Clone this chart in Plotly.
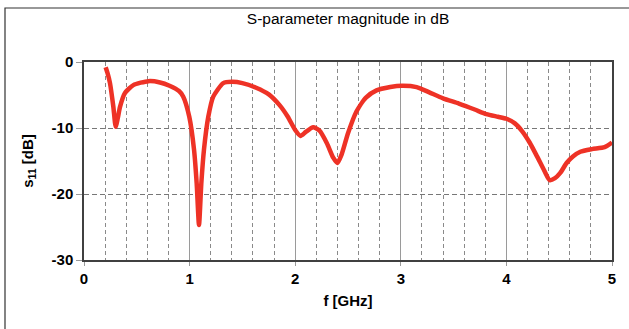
import plotly.graph_objects as go

freq_ghz = [0.205, 0.225, 0.246, 0.278, 0.30, 0.32, 0.341, 0.388, 0.467, 0.61, 0.72, 0.81,
            0.90, 0.94, 0.997, 1.042, 1.067, 1.089, 1.111, 1.136, 1.177, 1.224, 1.319, 1.40,
            1.50, 1.63, 1.75,
            1.85, 1.93, 2.00, 2.05, 2.10, 2.17, 2.23, 2.30, 2.36, 2.40, 2.44, 2.50, 2.58,
            2.67, 2.77, 2.90, 3.01, 3.15, 3.27, 3.40, 3.55, 3.70, 3.81, 3.92, 4.00, 4.08,
            4.15, 4.22, 4.29, 4.36, 4.41, 4.46, 4.51, 4.57, 4.63, 4.70, 4.81, 4.93, 5.0]
s11_db = [-0.8, -1.8, -3.2, -6.8, -9.8, -8.5, -6.8, -4.7, -3.5, -2.9, -3.1, -3.6,
          -4.4, -5.25, -8.3, -13.3, -18.4, -24.7, -18.4, -13.3, -8.3, -5.25, -3.2, -3.0,
          -3.2, -3.9, -4.9,
          -6.5, -8.3, -10.3, -11.2, -10.6, -9.9, -10.4, -12.3, -14.5, -15.3, -14.0, -10.8, -7.5,
          -5.4, -4.3, -3.8, -3.6, -3.8, -4.6, -5.5, -6.3, -7.2, -7.9, -8.3, -8.6, -9.3,
          -10.5, -12.2, -14.3, -16.5, -17.9, -17.6, -16.8, -15.3, -14.3, -13.6, -13.2, -12.9, -12.2]

x_ticks = [0, 1, 2, 3, 4, 5]
y_ticks = [0, -10, -20, -30]

FONT = "Liberation Sans, Arial, sans-serif"

fig = go.Figure()
fig.add_trace(go.Scatter(
    x=freq_ghz, y=s11_db, mode="lines",
    line=dict(color="#ee3226", width=4.5, shape="spline", smoothing=0.6),
    showlegend=False, hoverinfo="skip"))

fig.update_layout(
    width=629, height=329,
    margin=dict(l=84, r=17, t=62, b=69),
    paper_bgcolor="white", plot_bgcolor="white",
    font=dict(family=FONT, color="black"),
    title=dict(text="S-parameter magnitude in dB", x=0.5534, xanchor="center",
               y=1 - 19 / 329, yanchor="middle",
               font=dict(size=15.5, family=FONT, color="black")),
    xaxis=dict(
        range=[0, 5], tickvals=x_ticks, ticktext=[str(v) for v in x_ticks],
        showgrid=True, gridcolor="#9a9a9a", gridwidth=1,
        minor=dict(dtick=0.2, showgrid=True, gridcolor="#8a8a8a", griddash="4px,3px",
                   gridwidth=1, ticks=""),
        ticks="outside", ticklen=4, tickcolor="#999999",
        showline=True, linecolor="#404040", linewidth=1.5, mirror=True,
        zeroline=False,
        tickfont=dict(size=15, family=FONT, color="black", weight="bold"),
        title=dict(text="f [GHz]", standoff=10,
                   font=dict(size=15, family=FONT, color="black", weight="bold")),
    ),
    yaxis=dict(
        range=[-30, 0], tickvals=y_ticks, ticktext=[str(v) for v in y_ticks],
        showgrid=True, gridcolor="#777777", griddash="5px,3px", gridwidth=1,
        ticks="outside", ticklen=6, tickcolor="#999999",
        showline=True, linecolor="#404040", linewidth=1.5, mirror=True,
        zeroline=False,
        tickfont=dict(size=15, family=FONT, color="black", weight="bold"),
        title=dict(text="s<sub>11</sub> [dB]", standoff=14,
                   font=dict(size=15, family=FONT, color="black", weight="bold")),
    ),
    shapes=[dict(type="rect", xref="paper", yref="paper",
                 x0=-79 / 528, x1=1.2, y0=-0.5, y1=1 + 54 / 198,
                 line=dict(color="#333333", width=1.2), fillcolor="rgba(0,0,0,0)",
                 layer="below")],
)

fig.write_html("out.html", config={"displayModeBar": False},
               post_script="document.body.style.margin='0';")
